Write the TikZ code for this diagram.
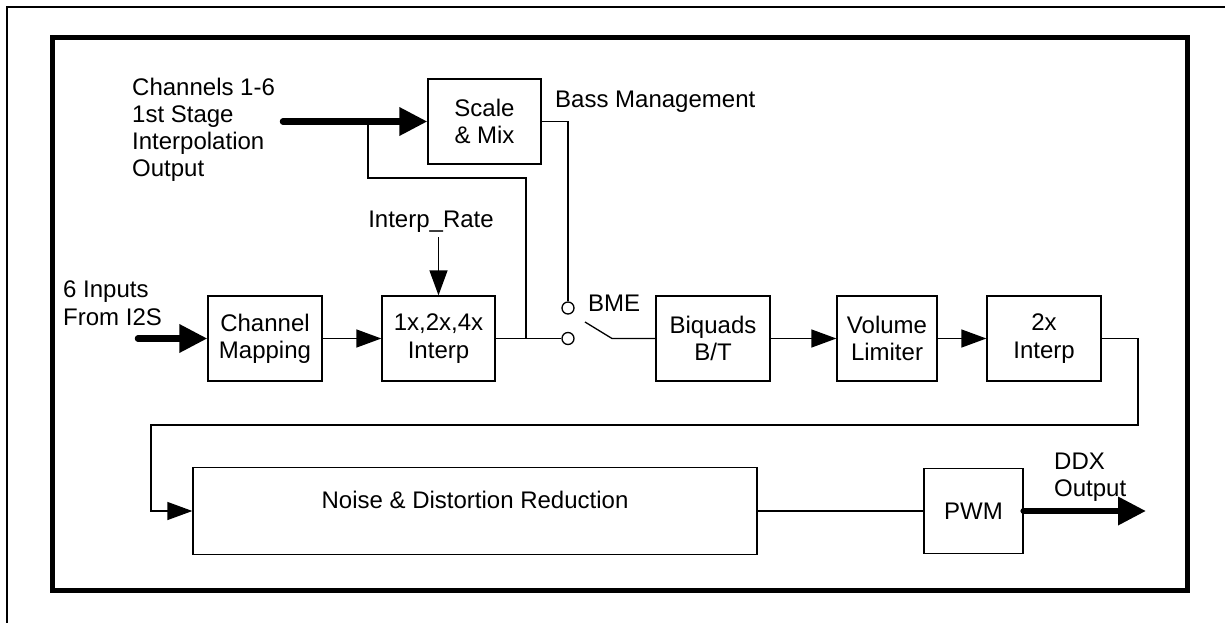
\documentclass[tikz,border=0pt]{standalone}
\usepackage{fontspec}
\setmainfont{Liberation Sans}
\usetikzlibrary{arrows.meta}
\newcommand\lblfont{\fontsize{24}{27.3}\selectfont}
\begin{document}
\begin{tikzpicture}[x=1pt,y=-1pt,
  box/.style={draw,line width=1.3pt,inner sep=0pt,align=center,font=\lblfont},
  lbl/.style={inner sep=0pt,font=\lblfont},
  conn/.style={line width=1.3pt},
  arr/.style={conn,-{Triangle[length=25pt,width=18pt]}},
  bigarr/.style={line width=6.5pt,line cap=round,-{Triangle[length=28pt,width=27pt]}},
  sw/.style={circle,draw,line width=1.3pt,minimum size=12pt,inner sep=0pt}]
\useasboundingbox (0,0) rectangle (1225,623);
% frames
\draw[line width=1.6pt] (7,623) -- (7,7) -- (1225,7);
\draw[line width=5pt] (52,38) rectangle (1187,590);
% boxes
\node[box,minimum width=113pt,minimum height=85pt] (scale) at (484.5,121.5) {Scale\\\& Mix};
\node[box,minimum width=114pt,minimum height=85pt] (chmap) at (265,338.5) {Channel\\Mapping};
\node[box,minimum width=113pt,minimum height=85pt] (interp) at (438.5,338.5) {1x,2x,4x\\Interp};
\node[box,minimum width=114pt,minimum height=85pt] (biquad) at (713,338.5) {Biquads\\B/T};
\node[box,minimum width=100pt,minimum height=85pt] (vol) at (887,338.5) {Volume\\Limiter};
\node[box,minimum width=114pt,minimum height=85pt] (twox) at (1044,338.5) {2x\\Interp};
\node[box,minimum width=564pt,minimum height=87pt] (noise) at (475,511) {};
\node[lbl] (noisetxt) at ([yshift=11pt]noise.center) {Noise \& Distortion Reduction};
\node[box,minimum width=99pt,minimum height=85pt] (pwm) at (973.5,511) {PWM};
% switch
\node[sw] (c1) at (568,308) {};
\node[sw] (c2) at (568,338.5) {};
\coordinate (bladeA) at (585,322);
\coordinate (bladeB) at (612,338.5);
% labels
\node[lbl,anchor=north west,align=left] (chlbl) at (132,77.5) {Channels 1-6\\1st Stage\\Interpolation\\Output};
\node[lbl,anchor=north west,align=left] (inlbl) at (63,280.8) {6 Inputs\\From I2S};
\node[lbl,anchor=north west,align=left] (ddx) at (1054,452.8) {DDX\\Output};
\node[lbl,anchor=base west] (bass) at (555,108) {Bass Management};
\node[lbl,anchor=base west] (bme) at (588,311) {BME};
\node[lbl,anchor=base] (irate) at (431,227) {Interp\_Rate};
% coordinates
\coordinate (in1) at (283,121.5);
\coordinate (in2) at (138,338.5);
\coordinate (j1) at (368,121.5);
\coordinate (b1) at (368,178);
\coordinate (b2) at (526,178);
\coordinate (j2) at (526,338.5);
\coordinate (irtop) at (438.5,237);
\coordinate (r1) at (1138,425);
\coordinate (r2) at (151,425);
\coordinate (outend) at (1146,511);
% connectors
\draw[conn] (j1) -- (b1) -- (b2) -- (j2);
\draw[bigarr] (in1) -- (scale.west);
\draw[conn] (scale.east) -| (c1.north);
\draw[arr] (irtop) -- (interp.north);
\draw[bigarr] (in2) -- (chmap.west);
\draw[arr] (chmap.east) -- (interp.west);
\draw[conn] (interp.east) -- (c2.west);
\draw[conn] (bladeA) -- (bladeB) -- (biquad.west);
\draw[arr] (biquad.east) -- (vol.west);
\draw[arr] (vol.east) -- (twox.west);
\draw[arr] (twox.east) -| (r1) -- (r2) |- (noise.west);
\draw[conn] (noise.east) -- (pwm.west);
\draw[bigarr] (pwm.east) -- (outend);
\end{tikzpicture}
\end{document}
